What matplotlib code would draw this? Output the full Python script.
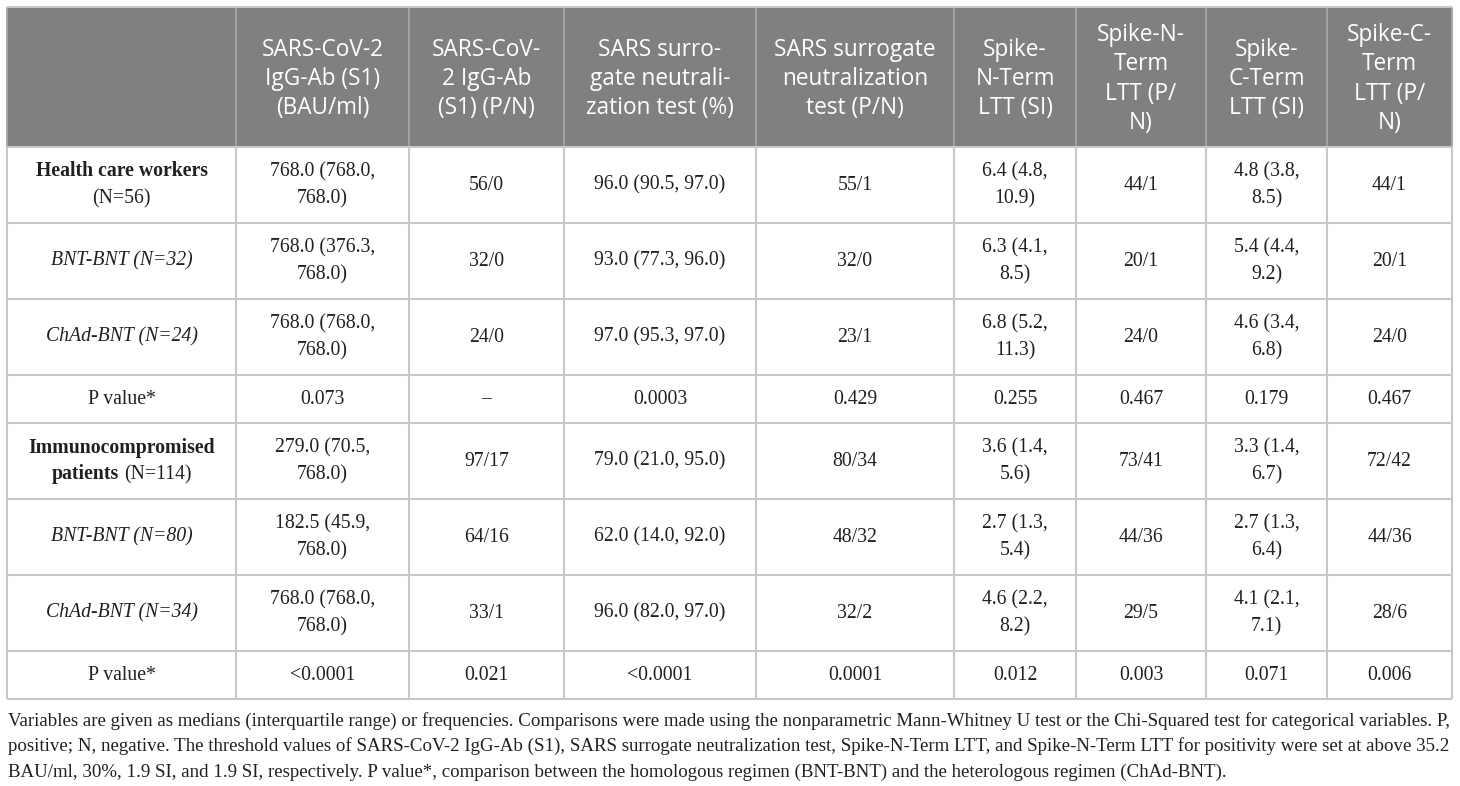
import matplotlib
matplotlib.use("Agg")
import matplotlib.pyplot as plt
from matplotlib.patches import Rectangle

# ---------------- data ----------------
headers = ["",
           "SARS-CoV-2\nIgG-Ab (S1)\n(BAU/ml)",
           "SARS-CoV-\n2 IgG-Ab\n(S1) (P/N)",
           "SARS surro-\ngate neutrali-\nzation test (%)",
           "SARS surrogate\nneutralization\ntest (P/N)",
           "Spike-\nN-Term\nLTT (SI)",
           "Spike-N-\nTerm\nLTT (P/\nN)",
           "Spike-\nC-Term\nLTT (SI)",
           "Spike-C-\nTerm\nLTT (P/\nN)"]

row_labels = ["Health care workers\n(N=56)",
              "BNT-BNT (N=32)",
              "ChAd-BNT (N=24)",
              "P value*",
              "Immunocompromised\npatients (N=114)",
              "BNT-BNT (N=80)",
              "ChAd-BNT (N=34)",
              "P value*"]
row_styles = ["group", "italic", "italic", "normal", "group", "italic", "italic", "normal"]

igg_bau = ["768.0 (768.0,\n768.0)", "768.0 (376.3,\n768.0)", "768.0 (768.0,\n768.0)", "0.073",
           "279.0 (70.5,\n768.0)", "182.5 (45.9,\n768.0)", "768.0 (768.0,\n768.0)", "<0.0001"]
igg_pn = ["56/0", "32/0", "24/0", "\u2013", "97/17", "64/16", "33/1", "0.021"]
sn_pct = ["96.0 (90.5, 97.0)", "93.0 (77.3, 96.0)", "97.0 (95.3, 97.0)", "0.0003",
          "79.0 (21.0, 95.0)", "62.0 (14.0, 92.0)", "96.0 (82.0, 97.0)", "<0.0001"]
sn_pn = ["55/1", "32/0", "23/1", "0.429", "80/34", "48/32", "32/2", "0.0001"]
ntl_si = ["6.4 (4.8,\n10.9)", "6.3 (4.1,\n8.5)", "6.8 (5.2,\n11.3)", "0.255",
          "3.6 (1.4,\n5.6)", "2.7 (1.3,\n5.4)", "4.6 (2.2,\n8.2)", "0.012"]
ntl_pn = ["44/1", "20/1", "24/0", "0.467", "73/41", "44/36", "29/5", "0.003"]
ctl_si = ["4.8 (3.8,\n8.5)", "5.4 (4.4,\n9.2)", "4.6 (3.4,\n6.8)", "0.179",
          "3.3 (1.4,\n6.7)", "2.7 (1.3,\n6.4)", "4.1 (2.1,\n7.1)", "0.071"]
ctl_pn = ["44/1", "20/1", "24/0", "0.467", "72/42", "44/36", "28/6", "0.006"]

footnote = ["Variables are given as medians (interquartile range) or frequencies. Comparisons were made using the nonparametric Mann-Whitney U test or the Chi-Squared test for categorical variables. P,",
            "positive; N, negative. The threshold values of SARS-CoV-2 IgG-Ab (S1), SARS surrogate neutralization test, Spike-N-Term LTT, and Spike-N-Term LTT for positivity were set at above 35.2",
            "BAU/ml, 30%, 1.9 SI, and 1.9 SI, respectively. P value*, comparison between the homologous regimen (BNT-BNT) and the heterologous regimen (ChAd-BNT)."]

data_cols = [igg_bau, igg_pn, sn_pct, sn_pn, ntl_si, ntl_pn, ctl_si, ctl_pn]

# ---------------- layout ----------------
col_edges = [7, 236, 409, 564, 756, 954, 1076, 1206, 1327, 1452]
row_edges = [7, 147, 223, 299, 375, 423, 499, 575, 651, 699]

W, H = 1460, 786
fig = plt.figure(figsize=(W / 100, H / 100), dpi=100)
ax = fig.add_axes([0, 0, 1, 1])
ax.set_xlim(0, W)
ax.set_ylim(H, 0)
ax.axis("off")

SERIF = ["Liberation Serif", "DejaVu Serif"]
SANS = ["Open Sans", "DejaVu Sans"]
HEAD_COLOR = "#808080"
GRID = "#c8c8c8"
TXT = "#231f20"
body_fs = 14.2
head_fs = 16.3
body_lh = 27
head_lh = 29.5

# header background
ax.add_patch(Rectangle((col_edges[0], row_edges[0]), col_edges[-1] - col_edges[0],
                       row_edges[1] - row_edges[0], facecolor=HEAD_COLOR, edgecolor="none", zorder=1))

# grid lines
for x in col_edges:
    ax.plot([x, x], [row_edges[0], row_edges[1]], color="#a6a6a6", lw=1.3, zorder=2, solid_capstyle="butt")
    ax.plot([x, x], [row_edges[1], row_edges[-1]], color=GRID, lw=1.5, zorder=2, solid_capstyle="butt")
for i, y in enumerate(row_edges):
    ax.plot([col_edges[0], col_edges[-1]], [y, y], color=GRID, lw=1.5, zorder=2, solid_capstyle="butt")


def draw_lines(lines, cx, cy, lh, **kw):
    n = len(lines)
    for i, ln in enumerate(lines):
        y = cy + (i - (n - 1) / 2) * lh
        ax.text(cx, y, ln, ha="center", va="center", zorder=3, **kw)


# header text
for j, h in enumerate(headers):
    if not h:
        continue
    cx = (col_edges[j] + col_edges[j + 1]) / 2
    cy = (row_edges[0] + row_edges[1]) / 2 + 2
    draw_lines(h.split("\n"), cx, cy, head_lh, family=SANS, fontsize=head_fs, color="white")

fig.canvas.draw()
renderer = fig.canvas.get_renderer()


def text_width(s, **kw):
    t = ax.text(0, 0, s, **kw)
    bb = t.get_window_extent(renderer=renderer)
    t.remove()
    return bb.width

# body
for i in range(len(row_labels)):
    cy = (row_edges[i + 1] + row_edges[i + 2]) / 2
    # label column
    cx = (col_edges[0] + col_edges[1]) / 2
    style = row_styles[i]
    lines = row_labels[i].split("\n")
    if style == "italic":
        draw_lines(lines, cx, cy, body_lh, family=SERIF, fontsize=body_fs, style="italic", color=TXT)
    elif style == "normal":
        draw_lines(lines, cx, cy, body_lh, family=SERIF, fontsize=body_fs, color=TXT)
    else:
        n = len(lines)
        for k, ln in enumerate(lines):
            y = cy + (k - (n - 1) / 2) * body_lh
            if "(" in ln:
                idx = ln.index("(")
                bold_part, norm_part = ln[:idx], ln[idx:]
            else:
                bold_part, norm_part = ln, ""
            kwb = dict(family=SERIF, fontsize=body_fs, fontweight="bold", color=TXT)
            kwn = dict(family=SERIF, fontsize=body_fs, color=TXT)
            wb = text_width(bold_part.rstrip(), **kwb) if bold_part.strip() else 0
            sp = text_width("a a", **kwn) - text_width("aa", **kwn) if bold_part.strip() and norm_part else 0
            wn = text_width(norm_part, **kwn) if norm_part else 0
            total = wb + sp + wn
            x0 = cx - total / 2
            if bold_part.strip():
                ax.text(x0, y, bold_part.rstrip(), ha="left", va="center", zorder=3, **kwb)
            if norm_part:
                ax.text(x0 + wb + sp, y, norm_part, ha="left", va="center", zorder=3, **kwn)
    # data columns
    for j, col in enumerate(data_cols):
        cxx = (col_edges[j + 1] + col_edges[j + 2]) / 2
        draw_lines(col[i].split("\n"), cxx, cy, body_lh, family=SERIF, fontsize=body_fs, color=TXT)

# footnote
for k, ln in enumerate(footnote):
    ax.text(8, 721 + k * 25.5, ln, ha="left", va="center", family=SERIF, fontsize=13.6, color=TXT)

fig.savefig("out.png", dpi=100)
